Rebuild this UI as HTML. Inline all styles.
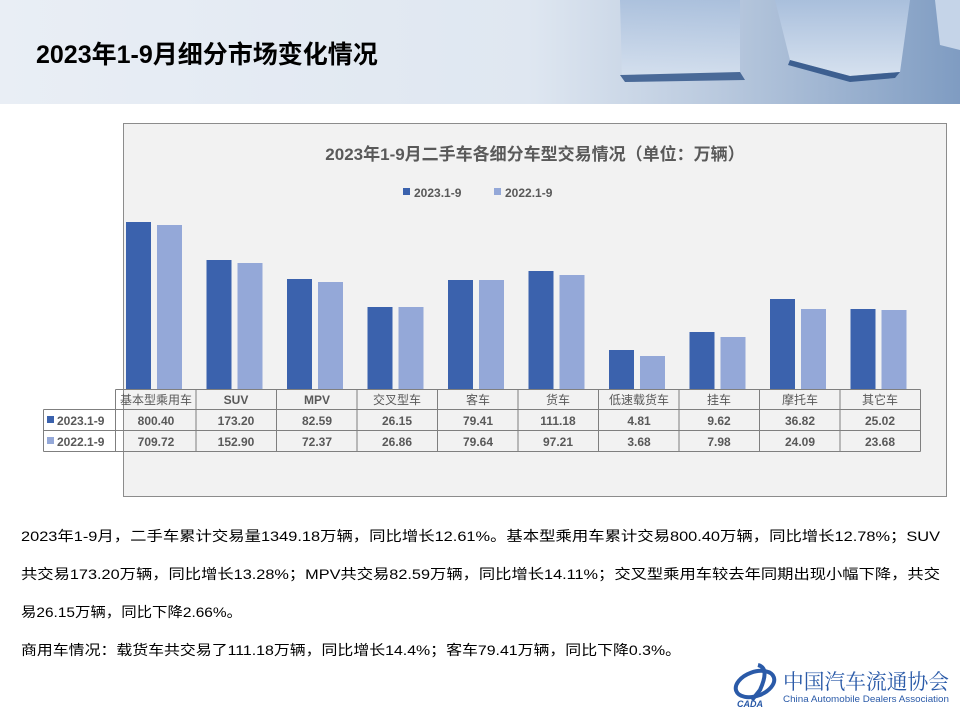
<!DOCTYPE html>
<html><head><meta charset="utf-8"><style>
html,body{margin:0;padding:0;background:#fff}
svg{display:block;font-family:"Liberation Sans","Noto Sans CJK SC",sans-serif}
</style></head><body>
<svg width="960" height="720" viewBox="0 0 960 720" xmlns="http://www.w3.org/2000/svg">
<defs>
<linearGradient id="hd" x1="0" y1="0" x2="1" y2="0">
<stop offset="0" stop-color="#e9eef5"/><stop offset="0.55" stop-color="#dfe7f1"/><stop offset="0.75" stop-color="#b9c9de"/><stop offset="1" stop-color="#7f9cc2"/>
</linearGradient>
<linearGradient id="cube" x1="0" y1="0" x2="0" y2="1">
<stop offset="0" stop-color="#a9bfdc"/><stop offset="1" stop-color="#d6e1ef"/>
</linearGradient>
</defs>
<rect x="0" y="0" width="960" height="104" fill="url(#hd)"/>
<polygon points="620,0 740,0 740,75 622,78" fill="url(#cube)" opacity="0.9"/>
<polygon points="620,75 740,72 745,80 625,82" fill="#4a6a98"/>
<polygon points="775,0 910,0 900,72 850,76 790,60" fill="url(#cube)"/>
<polygon points="790,60 850,76 900,72 895,78 850,82 788,65" fill="#3d5f90"/>
<polygon points="935,0 960,0 960,50 940,45" fill="#c5d4e8"/>
<text x="36" y="63" font-size="25" font-weight="bold" fill="#000">2023年1-9月细分市场变化情况</text>

<rect x="123.5" y="123.5" width="823" height="373" fill="#f2f2f2" stroke="#8c8c8c"/>
<text x="535" y="160" text-anchor="middle" font-size="17" font-weight="bold" fill="#595959">2023年1-9月二手车各细分车型交易情况（单位：万辆）</text>
<rect x="403" y="188" width="7" height="7" fill="#3b62ad"/>
<text x="414" y="197" font-size="12" font-weight="bold" fill="#595959">2023.1-9</text>
<rect x="494" y="188" width="7" height="7" fill="#94a8d8"/>
<text x="505" y="197" font-size="12" font-weight="bold" fill="#595959">2022.1-9</text>

<g>
<rect x="126" y="222" width="25" height="167" fill="#3b62ad"/><rect x="157" y="225" width="25" height="164" fill="#94a8d8"/>
<rect x="206.5" y="260" width="25" height="129" fill="#3b62ad"/><rect x="237.5" y="263" width="25" height="126" fill="#94a8d8"/>
<rect x="287" y="279" width="25" height="110" fill="#3b62ad"/><rect x="318" y="282" width="25" height="107" fill="#94a8d8"/>
<rect x="367.5" y="307" width="25" height="82" fill="#3b62ad"/><rect x="398.5" y="307" width="25" height="82" fill="#94a8d8"/>
<rect x="448" y="280" width="25" height="109" fill="#3b62ad"/><rect x="479" y="280" width="25" height="109" fill="#94a8d8"/>
<rect x="528.5" y="271" width="25" height="118" fill="#3b62ad"/><rect x="559.5" y="275" width="25" height="114" fill="#94a8d8"/>
<rect x="609" y="350" width="25" height="39" fill="#3b62ad"/><rect x="640" y="356" width="25" height="33" fill="#94a8d8"/>
<rect x="689.5" y="332" width="25" height="57" fill="#3b62ad"/><rect x="720.5" y="337" width="25" height="52" fill="#94a8d8"/>
<rect x="770" y="299" width="25" height="90" fill="#3b62ad"/><rect x="801" y="309" width="25" height="80" fill="#94a8d8"/>
<rect x="850.5" y="309" width="25" height="80" fill="#3b62ad"/><rect x="881.5" y="310" width="25" height="79" fill="#94a8d8"/>
</g>

<g stroke="#7f7f7f" stroke-width="1" fill="none">
<path d="M115.5 389.5H920.5M43.5 409.5H920.5M43.5 430.5H920.5M43.5 451.5H920.5"/>
<path d="M43.5 409.5V451.5M115.5 389.5V451.5M196 389.5V451.5M276.5 389.5V451.5M357 389.5V451.5M437.5 389.5V451.5M518 389.5V451.5M598.5 389.5V451.5M679 389.5V451.5M759.5 389.5V451.5M840 389.5V451.5M920.5 389.5V451.5"/>
</g>
<g font-size="12" fill="#595959" text-anchor="middle">
<text x="156" y="404">基本型乘用车</text><text x="236" y="404" font-weight="bold">SUV</text><text x="317" y="404" font-weight="bold">MPV</text><text x="397" y="404">交叉型车</text><text x="478" y="404">客车</text><text x="558" y="404">货车</text><text x="639" y="404">低速载货车</text><text x="719" y="404">挂车</text><text x="800" y="404">摩托车</text><text x="880" y="404">其它车</text>
</g>
<g font-size="12" font-weight="bold" fill="#595959" text-anchor="middle">
<text x="156" y="425">800.40</text><text x="236" y="425">173.20</text><text x="317" y="425">82.59</text><text x="397" y="425">26.15</text><text x="478" y="425">79.41</text><text x="558" y="425">111.18</text><text x="639" y="425">4.81</text><text x="719" y="425">9.62</text><text x="800" y="425">36.82</text><text x="880" y="425">25.02</text>
<text x="156" y="446">709.72</text><text x="236" y="446">152.90</text><text x="317" y="446">72.37</text><text x="397" y="446">26.86</text><text x="478" y="446">79.64</text><text x="558" y="446">97.21</text><text x="639" y="446">3.68</text><text x="719" y="446">7.98</text><text x="800" y="446">24.09</text><text x="880" y="446">23.68</text>
</g>
<rect x="47" y="416" width="7" height="7" fill="#3b62ad"/>
<text x="57" y="425" font-size="12" font-weight="bold" fill="#595959">2023.1-9</text>
<rect x="47" y="437" width="7" height="7" fill="#94a8d8"/>
<text x="57" y="446" font-size="12" font-weight="bold" fill="#595959">2022.1-9</text>

<g font-size="14" fill="#000">
<text x="21" y="541" textLength="919" lengthAdjust="spacingAndGlyphs">2023年1-9月，二手车累计交易量1349.18万辆，同比增长12.61%。基本型乘用车累计交易800.40万辆，同比增长12.78%；SUV</text>
<text x="21" y="579" textLength="919" lengthAdjust="spacingAndGlyphs">共交易173.20万辆，同比增长13.28%；MPV共交易82.59万辆，同比增长14.11%；交叉型乘用车较去年同期出现小幅下降，共交</text>
<text x="21" y="617" textLength="221" lengthAdjust="spacingAndGlyphs">易26.15万辆，同比下降2.66%。</text>
<text x="21" y="655" textLength="660" lengthAdjust="spacingAndGlyphs">商用车情况：载货车共交易了111.18万辆，同比增长14.4%；客车79.41万辆，同比下降0.3%。</text>
</g>

<g>
<ellipse cx="755" cy="684" rx="20" ry="12" fill="none" stroke="#2a5aa8" stroke-width="4" transform="rotate(-20 755 684)"/>
<path d="M758 665 Q770 668 760 690 L752 700" stroke="#2a5aa8" stroke-width="4" fill="none"/>
<text x="737" y="707" font-size="9" font-weight="bold" font-style="italic" fill="#2a5aa8">CADA</text>
<text x="783" y="689" font-size="21" font-family="'Noto Serif CJK SC',serif" fill="#2a5aa8" textLength="166" lengthAdjust="spacingAndGlyphs">中国汽车流通协会</text>
<text x="783" y="702" font-size="9.5" fill="#2a5aa8" textLength="166" lengthAdjust="spacingAndGlyphs">China Automobile Dealers Association</text>
</g>
</svg>
</body></html>
